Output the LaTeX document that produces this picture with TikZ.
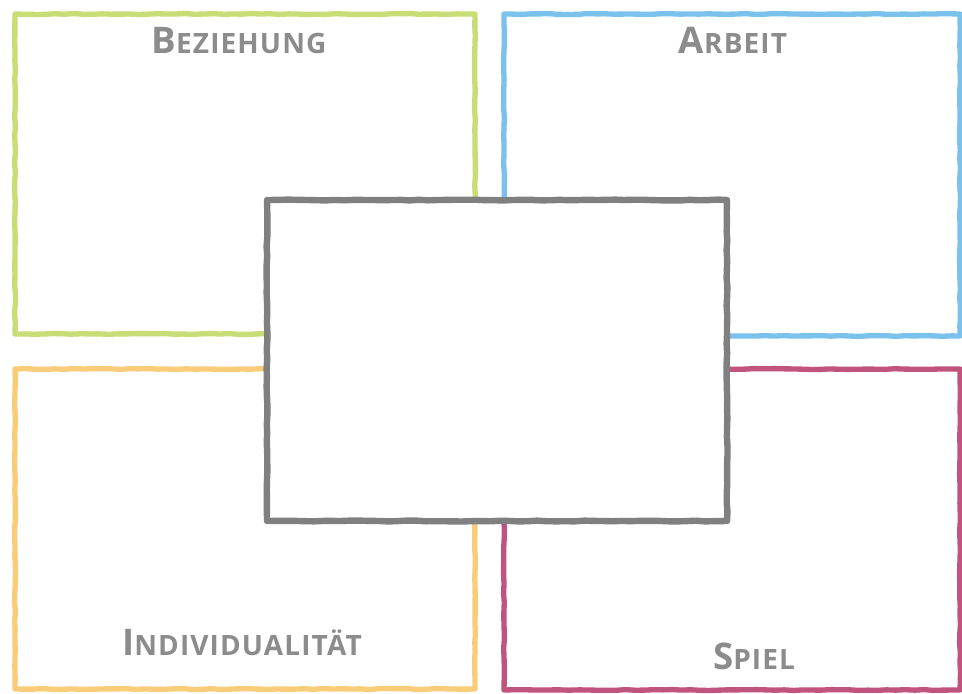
\documentclass[tikz,border=0pt]{standalone}
\usepackage{fontspec}
\newfontfamily\lblfont{Open Sans}[LetterSpace=4]
\usetikzlibrary{decorations.pathmorphing}
\definecolor{cgreen}{RGB}{199,221,118}
\definecolor{cblue}{RGB}{122,194,236}
\definecolor{corange}{RGB}{249,204,122}
\definecolor{cmag}{RGB}{192,84,126}
\definecolor{cgray}{RGB}{128,128,128}
\definecolor{ctext}{RGB}{140,140,140}
\newcommand\sclabel[2]{{\fontsize{27.5}{30}\selectfont #1}{\fontsize{21}{24}\selectfont #2}}
\begin{document}
\begin{tikzpicture}[x=0.75pt,y=-0.75pt,
  panel/.style={draw=#1, line width=4pt, line join=round, fill=none,
    rectangle, inner sep=0pt, outer sep=0pt,
    decorate, decoration={random steps, segment length=7pt, amplitude=0.35pt}},
  centerbox/.style={draw=cgray, fill=white, line width=4.8pt, line join=round,
    rectangle, inner sep=0pt, outer sep=0pt,
    decorate, decoration={random steps, segment length=7pt, amplitude=0.35pt}},
  title/.style={text=ctext, font=\lblfont\bfseries, inner sep=0pt, anchor=base}
]
\pgfmathsetseed{7}
\useasboundingbox (0,0) rectangle (962,693);
\fill[white] (0,0) rectangle (962,693);
\node[panel=cgreen, minimum width=345pt, minimum height=240pt] (rel) at (245,174) {};
\node[panel=cblue, minimum width=342pt, minimum height=241.5pt] (work) at (732,175) {};
\node[panel=corange, minimum width=345pt, minimum height=240pt] (indiv) at (245,529) {};
\node[panel=cmag, minimum width=342pt, minimum height=240.75pt] (play) at (732,529.5) {};
\node[centerbox, minimum width=345pt, minimum height=240.75pt] (core) at (497,360.5) {};
\node[title] (trel) at (239,53) {\sclabel{B}{EZIEHUNG}};
\node[title] (twork) at (733,53) {\sclabel{A}{RBEIT}};
\node[title] (tindiv) at (242,655) {\sclabel{I}{NDIVIDUALITÄT}};
\node[title] (tplay) at (754,669) {\sclabel{S}{PIEL}};
\end{tikzpicture}
\end{document}
